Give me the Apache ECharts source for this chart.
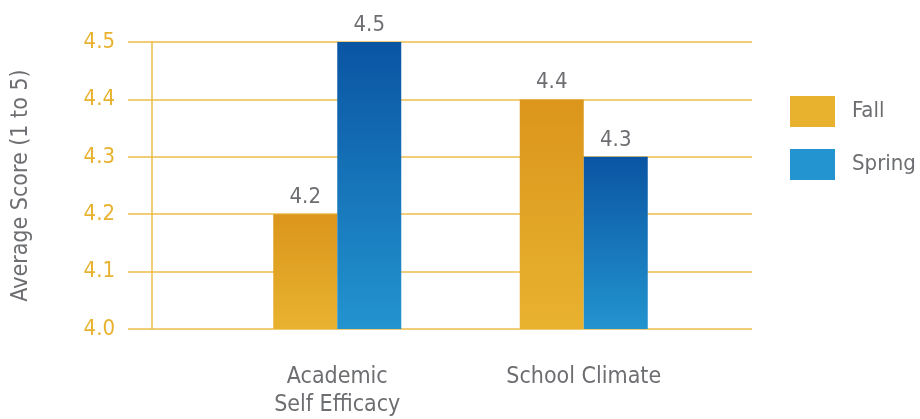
<!DOCTYPE html>
<html>
<head>
<meta charset="utf-8">
<title>Average Score</title>
<script src="https://cdn.jsdelivr.net/npm/echarts@6.0.0/dist/echarts.min.js"></script>
<style>
  html, body { margin: 0; padding: 0; background: #fff; }
  #chart { width: 920px; height: 419px; }
</style>
</head>
<body>
<div id="chart"></div>
<script>
// --- Data ---
const categories = ['Academic\nSelf Efficacy', 'School Climate'];
const fallScores = [4.2, 4.4];
const springScores = [4.5, 4.3];
const seriesNames = ['Fall', 'Spring'];

// --- Style ---
const FONT = '"Liberation Sans Narrow", "DejaVu Sans Condensed", "Roboto", sans-serif';
const GOLD = '#E8B22F';
const GRID_GOLD = '#EDBD4A';
const GREY = '#6D6E71';

const vGrad = (top, bottom) => new echarts.graphic.LinearGradient(0, 0, 0, 1, [
    { offset: 0, color: top },
    { offset: 1, color: bottom }
]);

const barLabel = {
    show: true,
    position: 'top',
    distance: 6,
    color: GREY,
    fontFamily: FONT,
    fontSize: 22,
    formatter: (p) => p.value.toFixed(1)
};

const chart = echarts.init(document.getElementById('chart'));

const option = {
    animation: false,
    textStyle: { fontFamily: FONT },
    // grid 0 carries the value axis and the gridlines, grid 1 carries the bars
    grid: [
        { left: 152, right: 168, top: 42, bottom: 90 },
        { left: 214, right: 213, top: 42, bottom: 90 }
    ],
    legend: {
        orient: 'vertical',
        left: 790,
        top: 96,
        padding: 0,
        itemWidth: 45,
        itemHeight: 31,
        itemGap: 22,
        icon: 'rect',
        textStyle: { color: GREY, fontSize: 22, fontFamily: FONT, padding: [0, 0, 0, 12] },
        data: [
            { name: seriesNames[0], itemStyle: { color: GOLD } },
            { name: seriesNames[1], itemStyle: { color: '#2394CF' } }
        ]
    },
    xAxis: [
        { gridIndex: 0, type: 'category', data: categories, show: false },
        {
            gridIndex: 1,
            type: 'category',
            data: categories,
            axisLine: { show: false },
            axisTick: { show: false },
            axisLabel: { color: GREY, fontSize: 23, fontFamily: FONT, lineHeight: 28, margin: 34 }
        }
    ],
    yAxis: [
        {
            gridIndex: 0,
            type: 'value',
            min: 4.0,
            max: 4.5,
            interval: 0.1,
            name: 'Average Score (1 to 5)',
            nameLocation: 'middle',
            nameGap: 119,
            nameTextStyle: { color: GREY, fontSize: 23, fontFamily: FONT },
            axisLine: { show: true, lineStyle: { color: GRID_GOLD, width: 1.5 } },
            axisTick: { show: true, length: 24, lineStyle: { color: GRID_GOLD, width: 1.5 } },
            axisLabel: { color: GOLD, fontSize: 22, fontFamily: FONT, margin: 37, formatter: (v) => v.toFixed(1) },
            splitLine: { show: true, lineStyle: { color: GRID_GOLD, width: 1.5 } }
        },
        { gridIndex: 1, type: 'value', min: 4.0, max: 4.5, interval: 0.1, show: false, splitLine: { show: false } }
    ],
    series: [
        {
            name: seriesNames[0],
            type: 'bar',
            xAxisIndex: 1,
            yAxisIndex: 1,
            data: fallScores,
            barWidth: 64,
            barGap: '0%',
            itemStyle: { color: vGrad('#DB961B', '#E8B22F') },
            label: barLabel
        },
        {
            name: seriesNames[1],
            type: 'bar',
            xAxisIndex: 1,
            yAxisIndex: 1,
            data: springScores,
            barWidth: 64,
            barGap: '0%',
            itemStyle: { color: vGrad('#0A55A3', '#2394CF') },
            label: barLabel
        }
    ]
};

chart.setOption(option);
</script>
</body>
</html>
